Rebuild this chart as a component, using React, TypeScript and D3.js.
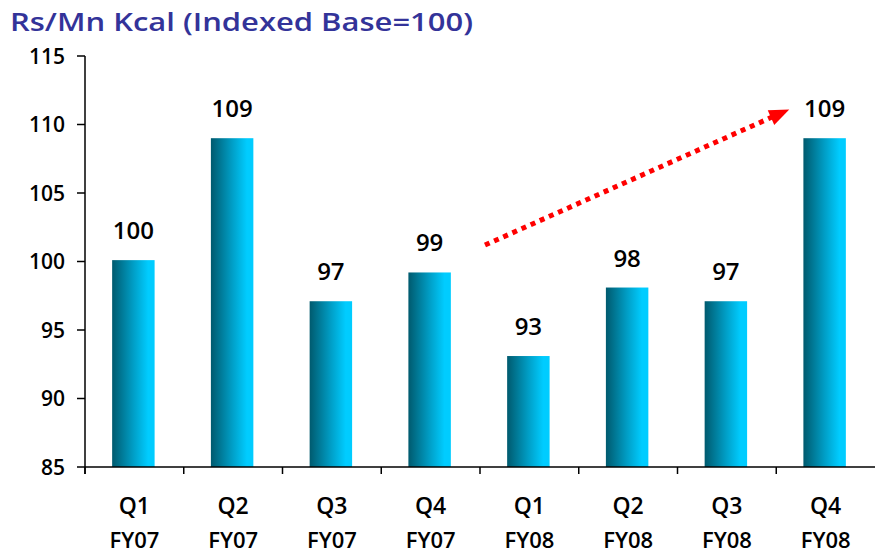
import React from "react";
import * as d3 from "d3";

const quarters = ["Q1", "Q2", "Q3", "Q4", "Q1", "Q2", "Q3", "Q4"];
const fiscalYears = ["FY07", "FY07", "FY07", "FY07", "FY08", "FY08", "FY08", "FY08"];
const values = [100.1, 109, 97.1, 99.2, 93.1, 98.1, 97.1, 109];
const valueLabels = ["100", "109", "97", "99", "93", "98", "97", "109"];
const yTicks = [85, 90, 95, 100, 105, 110, 115];
const titleText = "Rs/Mn Kcal (Indexed Base=100)";

const W = 875;
const H = 553;
const FONT = "'Open Sans', 'DejaVu Sans', sans-serif";

export default function App() {
  const cats = quarters.map((q, i) => `${q} ${fiscalYears[i]}`);
  const x = d3.scaleBand<string>().domain(cats).range([85, 875]).padding(0);
  const y = d3.scaleLinear().domain([85, 115]).range([467, 56]);
  const barW = x.bandwidth() * 0.43;

  // trend arrow annotation (data space)
  const x0 = (x(cats[4]) as number) + 5;
  const y0 = y(101.2);
  const x1 = (x(cats[7]) as number) + 13;
  const y1 = y(111.1);
  const dx = x1 - x0;
  const dy = y1 - y0;
  const len = Math.sqrt(dx * dx + dy * dy);
  const ux = dx / len;
  const uy = dy / len;
  const headL = 20;
  const headW = 8;
  const bx = x1 - ux * headL;
  const by = y1 - uy * headL;
  const px = -uy;
  const py = ux;
  const head = [
    [x1, y1],
    [bx + px * headW, by + py * headW],
    [bx - px * headW, by - py * headW],
  ];

  return (
    <svg width={W} height={H} style={{ position: "absolute", left: 0, top: 0 }}
      fontFamily={FONT}>
      <defs>
        <linearGradient id="barGrad" x1="0" x2="1" y1="0" y2="0">
          <stop offset="0" stopColor="#005a6e" />
          <stop offset="0.5" stopColor="#009ec6" />
          <stop offset="0.85" stopColor="#00ccff" />
          <stop offset="1" stopColor="#00ccff" />
        </linearGradient>
      </defs>
      <rect width={W} height={H} fill="#ffffff" />
      <text x={10} y={31} fontSize={26} fontWeight={600} fill="#333399" textLength={463} lengthAdjust="spacingAndGlyphs">
        {titleText}
      </text>

      {/* bars */}
      {values.map((v, i) => {
        const cx = (x(cats[i]) as number) + x.bandwidth() / 2 - 1;
        return (
          <g key={i}>
            <rect x={cx - barW / 2} y={y(v)} width={barW} height={y(85) - y(v)} fill="url(#barGrad)" />
            <text x={cx} y={y(v) - 21} fontSize={24} fontWeight={600} textAnchor="middle" fill="#000">
              {valueLabels[i]}
            </text>
          </g>
        );
      })}

      {/* y axis */}
      <line x1={85} x2={85} y1={y(115)} y2={y(85) + 7} stroke="#000" strokeWidth={1.5} />
      {yTicks.map((t) => (
        <g key={t}>
          <line x1={77} x2={85} y1={y(t)} y2={y(t)} stroke="#000" strokeWidth={1.5} />
          <text x={65} y={y(t) + 7.5} fontSize={21} fontWeight={600} textAnchor="end" fill="#000">{t}</text>
        </g>
      ))}

      {/* x axis */}
      <line x1={85} x2={875} y1={y(85)} y2={y(85)} stroke="#000" strokeWidth={1.5} />
      {cats.map((c, i) => (
        <line key={"t" + i} x1={x(c) as number} x2={x(c) as number} y1={y(85)} y2={y(85) + 7} stroke="#000" strokeWidth={1.5} />
      ))}
      {cats.map((c, i) => {
        const cx = (x(c) as number) + x.bandwidth() / 2;
        return (
          <g key={"l" + i}>
            <text x={cx} y={514} fontSize={23} fontWeight={600} textAnchor="middle" fill="#000">{quarters[i]}</text>
            <text x={cx} y={548} fontSize={22} fontWeight={600} textAnchor="middle" fill="#000">{fiscalYears[i]}</text>
          </g>
        );
      })}

      {/* trend arrow */}
      <line x1={x0} y1={y0} x2={bx + ux * 2} y2={by + uy * 2} stroke="#ff0000" strokeWidth={5} strokeDasharray="5 5" />
      <polygon points={head.map((p) => p.join(",")).join(" ")} fill="#ff0000" />
    </svg>
  );
}
